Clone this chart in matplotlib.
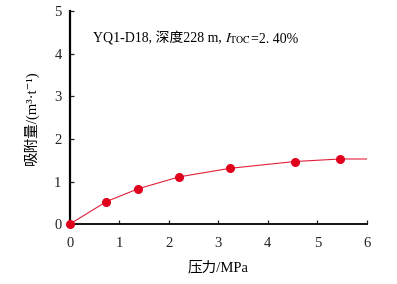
import numpy as np
from matplotlib import pyplot as plt

plt.rcParams['font.family'] = ['Liberation Serif', 'Noto Sans CJK SC', 'DejaVu Serif']
plt.rcParams['mathtext.fontset'] = 'stix'

# 压力 (MPa) 与吸附量 (m3/t)
pressure = [0, 0.74, 1.38, 2.21, 3.23, 4.54, 5.46]
adsorption = [0, 0.53, 0.83, 1.11, 1.31, 1.47, 1.53]
# 曲线延伸到 6 MPa
curve_x = pressure + [6.0]
curve_y = adsorption + [1.53]

xticks = [0, 1, 2, 3, 4, 5, 6]
yticks = [0, 1, 2, 3, 4, 5]

fig = plt.figure(figsize=(3.97, 2.84), dpi=100)
ax = fig.add_axes([0.176, 0.211, 0.748, 0.749])

ax.plot(curve_x, curve_y, color='#e0203a', lw=0.8, zorder=2)
ax.plot(pressure, adsorption, 'o', color='#e0001c', ms=5.5, zorder=3, clip_on=False)

ax.set_xlim(0, 6)
ax.set_ylim(0, 5)
ax.set_xticks(xticks)
ax.set_yticks(yticks)
for s in ['top', 'right']:
    ax.spines[s].set_visible(False)
ax.spines['left'].set_linewidth(1.6)
ax.spines['bottom'].set_linewidth(1.3)
ax.tick_params(direction='in', length=3, width=0.9, labelsize=10.5, colors='#222222')
ax.tick_params(axis='x', pad=9)
ax.tick_params(axis='y', pad=6)

ax.set_xlabel('压力/MPa', fontsize=10.5, labelpad=8)
ax.set_ylabel('吸附量/(m³·t⁻¹)', fontsize=10.5, labelpad=11)

t1 = ax.text(0.47, 4.26, 'YQ1-D18, 深度228 m, ', fontsize=10, va='baseline')
t2 = ax.annotate(r'$I_{\mathrm{TOC}}$', xy=(1, 0), xycoords=t1, fontsize=10, va='bottom', ha='left')
ax.annotate('=2. 40%', xy=(1, 0), xycoords=t2, fontsize=10, va='bottom', ha='left')

fig.savefig('out.png', dpi=100)
